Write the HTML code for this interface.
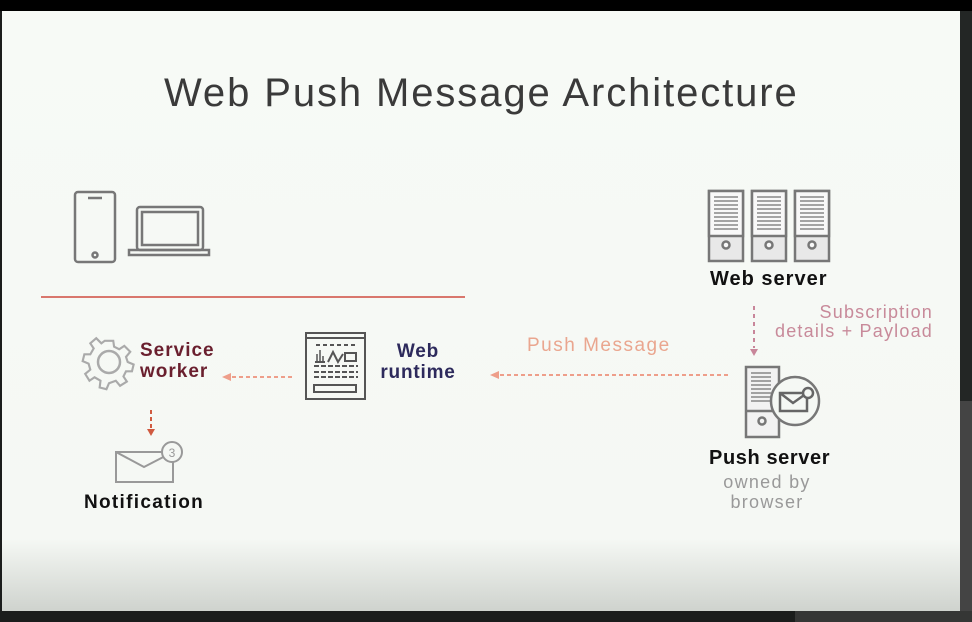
<!DOCTYPE html>
<html><head><style>
body{margin:0;width:972px;height:622px;background:#1b1d1c;position:relative;overflow:hidden;font-family:"Liberation Sans",sans-serif}
#slide{position:absolute;left:2px;top:11px;width:958px;height:600px;background:linear-gradient(#f7faf6 0%,#f5f8f4 88%,#cfd3ce 100%)}
.t{position:absolute;white-space:nowrap}
</style></head><body>
<div style="position:absolute;left:0;top:0;width:972px;height:11px;background:#000"></div>
<div style="position:absolute;left:960px;top:11px;width:12px;height:390px;background:#232625"></div>
<div style="position:absolute;left:960px;top:401px;width:12px;height:221px;background:#444"></div>
<div style="position:absolute;left:795px;top:611px;width:177px;height:11px;background:#353635"></div>
<div id="slide"></div>
<div class="t" style="left:164px;top:71px;font-size:40px;color:#3a3a3a;letter-spacing:1.9px">Web Push Message Architecture</div>
<svg style="position:absolute;left:0;top:0" width="972" height="622">
<g fill="none" stroke="#777" stroke-width="2.5">
 <rect x="75" y="192" width="40" height="70" rx="3"/>
 <line x1="88" y1="198" x2="102" y2="198"/>
 <circle cx="95" cy="255" r="2.5"/>
 <rect x="137" y="207" width="66" height="43" rx="3"/>
 <rect x="142" y="212" width="56" height="33"/>
 <rect x="129" y="250" width="80" height="5"/>
</g>
<line x1="41" y1="297" x2="465" y2="297" stroke="#d9776d" stroke-width="2"/>
<g transform="translate(109,362)" fill="none" stroke="#aaa" stroke-width="2.5">
 <circle r="11"/>
 <path d="M-5,-25 L5,-25 L6,-18 L12,-15 L18,-19 L25,-12 L20,-6 L22,0 L29,3 L27,11 L20,11 L17,17 L21,23 L13,28 L8,22 L0,25 L-3,32 L-11,30 L-10,22 L-17,18 L-23,22 L-28,14 L-22,9 L-24,2 L-31,-1 L-29,-9 L-22,-9 L-18,-16 L-22,-22 L-15,-28 L-9,-22 Z" transform="scale(0.85)"/>
</g>
<g fill="none" stroke="#999" stroke-width="2">
 <rect x="116" y="452" width="57" height="30"/>
 <polyline points="116,452 144,467 173,452"/>
 <circle cx="172" cy="452" r="10" fill="#f5f8f4"/>
</g>
<text x="172" y="457" font-size="12" fill="#999" text-anchor="middle">3</text>
<line x1="151" y1="410" x2="151" y2="428" stroke="#d05a40" stroke-width="2" stroke-dasharray="4,3"/>
<polygon points="147,429 155,429 151,436" fill="#d05a40"/>
<g fill="none" stroke="#555" stroke-width="2">
 <rect x="306" y="333" width="59" height="66"/>
 <line x1="306" y1="338" x2="365" y2="338"/>
 <line x1="316" y1="345" x2="358" y2="345" stroke-dasharray="4,3"/>
 <rect x="314" y="385" width="42" height="7"/>
 <line x1="314" y1="366" x2="358" y2="366" stroke-dasharray="5,2"/>
 <line x1="314" y1="372" x2="358" y2="372" stroke-dasharray="5,2"/>
 <line x1="314" y1="377" x2="358" y2="377" stroke-dasharray="5,2"/>
 <rect x="345" y="353" width="11" height="8"/>
 <polyline points="328,362 333,352 338,362 343,354"/>
 <line x1="315" y1="362" x2="325" y2="362"/>
</g>
<g stroke="#555" stroke-width="1.5"><line x1="317" y1="362" x2="317" y2="354"/><line x1="320" y1="362" x2="320" y2="350"/><line x1="323" y1="362" x2="323" y2="356"/></g>
<line x1="232" y1="377" x2="293" y2="377" stroke="#ee9e8a" stroke-width="2" stroke-dasharray="4,3"/>
<polygon points="222,377 231,373 231,381" fill="#ee9e8a"/>
<line x1="500" y1="375" x2="730" y2="375" stroke="#ee9e8a" stroke-width="2" stroke-dasharray="4,3"/>
<polygon points="490,375 499,371 499,379" fill="#ee9e8a"/>
<g fill="#e8e8e8" stroke="#777" stroke-width="2.5">
 <rect x="709" y="191" width="34" height="70"/>
 <rect x="752" y="191" width="34" height="70"/>
 <rect x="795" y="191" width="34" height="70"/>
</g>
<g stroke="#777" stroke-width="2.5" fill="#f8f8f8">
 <rect x="709" y="191" width="34" height="45"/><rect x="752" y="191" width="34" height="45"/><rect x="795" y="191" width="34" height="45"/>
 <circle cx="726" cy="245" r="3.5"/><circle cx="769" cy="245" r="3.5"/><circle cx="812" cy="245" r="3.5"/>
</g>
<g stroke="#888" stroke-width="1.6">
 <path d="M714,197h24M714,201h24M714,205h24M714,209h24M714,213h24M714,217h24M714,221h24M714,225h24M714,229h24"/>
 <path d="M757,197h24M757,201h24M757,205h24M757,209h24M757,213h24M757,217h24M757,221h24M757,225h24M757,229h24"/>
 <path d="M800,197h24M800,201h24M800,205h24M800,209h24M800,213h24M800,217h24M800,221h24M800,225h24M800,229h24"/>
</g>
<line x1="754" y1="306" x2="754" y2="348" stroke="#c8869a" stroke-width="2" stroke-dasharray="4,4"/>
<polygon points="750,349 758,349 754,356" fill="#c8869a"/>
<g stroke="#777" stroke-width="2.5" fill="#f2f2f2">
 <rect x="746" y="367" width="33" height="70"/>
 <line x1="746" y1="411" x2="779" y2="411"/>
 <circle cx="762" cy="421" r="3.5"/>
</g>
<g stroke="#888" stroke-width="1.6"><path d="M751,373h20M751,377h20M751,381h20M751,385h20M751,389h20M751,393h20M751,397h20M751,401h20"/></g>
<circle cx="795" cy="401" r="24" fill="#f5f8f4" stroke="#777" stroke-width="2.5"/>
<g fill="none" stroke="#666" stroke-width="2.5"><rect x="780" y="393" width="27" height="18"/><polyline points="780,393 793,403 807,393"/></g>
<circle cx="808" cy="393" r="5" fill="#f5f8f4" stroke="#666" stroke-width="2.5"/>
</svg>
<div class="t" style="left:140px;top:340px;font-size:19px;font-weight:bold;color:#6a1f2e;line-height:21px;letter-spacing:1px">Service<br>worker</div>
<div class="t" style="left:377px;top:341px;width:82px;font-size:19px;font-weight:bold;color:#2d2a5c;line-height:21px;text-align:center;letter-spacing:0.8px">Web<br>runtime</div>
<div class="t" style="left:84px;top:492px;font-size:19px;font-weight:bold;color:#111;letter-spacing:1.3px">Notification</div>
<div class="t" style="left:527px;top:335px;font-size:19px;color:#eaa68f;letter-spacing:1.5px">Push Message</div>
<div class="t" style="left:710px;top:268px;font-size:20px;font-weight:bold;color:#111;letter-spacing:1px">Web server</div>
<div class="t" style="left:775px;top:303px;width:158px;font-size:18px;color:#c88a9a;line-height:19px;text-align:right;letter-spacing:1.2px">Subscription<br>details + Payload</div>
<div class="t" style="left:709px;top:447px;font-size:20px;font-weight:bold;color:#111;letter-spacing:0.6px">Push server</div>
<div class="t" style="left:717px;top:472px;width:100px;font-size:18px;color:#999;line-height:20px;text-align:center;letter-spacing:1.3px">owned by<br>browser</div>
</body></html>
